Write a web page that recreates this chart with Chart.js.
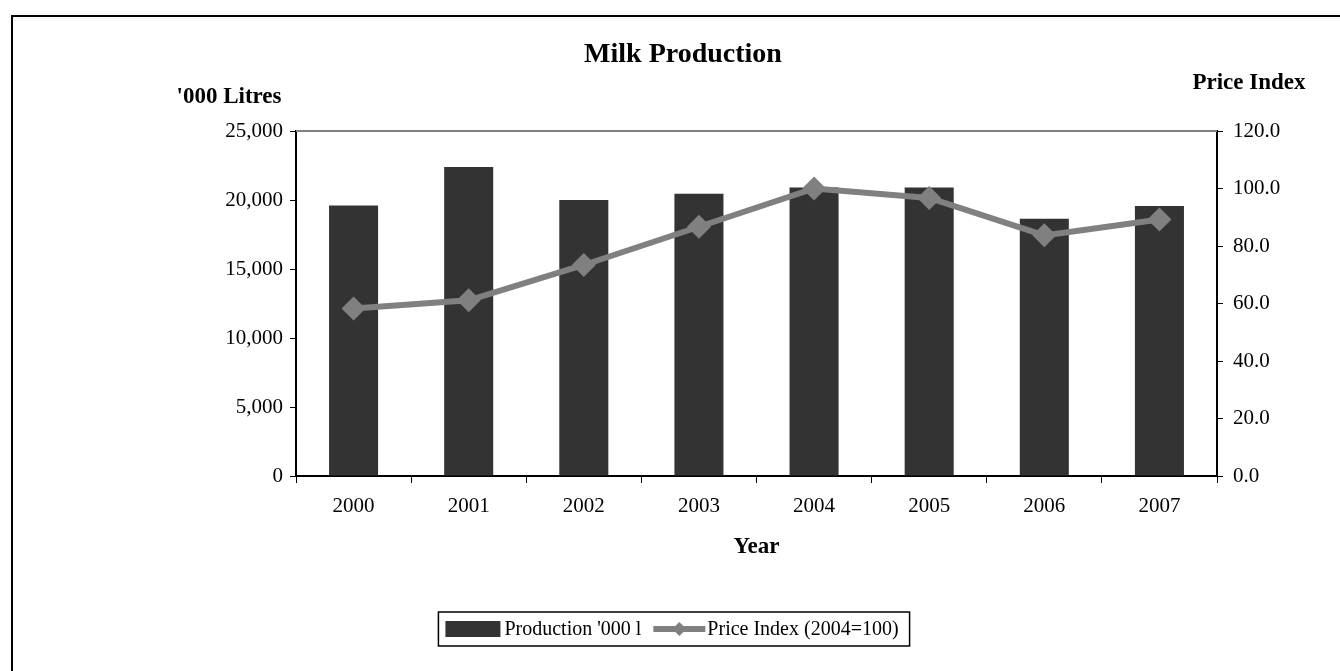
<!DOCTYPE html>
<html>
<head>
<meta charset="utf-8">
<script src="https://cdn.jsdelivr.net/npm/chart.js@4.4.1/dist/chart.umd.min.js"></script>
<style>
  body { margin: 0; background: #fff; }
  #wrap { width: 1340px; height: 671px; position: relative; }
</style>
</head>
<body>
<div id="wrap"><canvas id="milk-chart" width="1340" height="671"></canvas></div>
<script>
const years = ["2000", "2001", "2002", "2003", "2004", "2005", "2006", "2007"];
const production = [19600, 22400, 20000, 20450, 20900, 20900, 18650, 19570];
const priceIndex = [58.3, 61.1, 73.4, 86.7, 100.0, 96.7, 83.7, 89.2];
const leftTicks = [0, 5000, 10000, 15000, 20000, 25000];
const rightTicks = [0, 20, 40, 60, 80, 100, 120];

const serif = "'Liberation Serif', 'Times New Roman', serif";
const barColor = "#333333";
const lineColor = "#808080";

// titles, border, top rule and framed legend
const decor = {
  id: "decor",
  beforeDraw(c) {
    const ctx = c.ctx;
    ctx.save();
    ctx.fillStyle = "#fff";
    ctx.fillRect(0, 0, c.width, c.height);
    ctx.restore();
  },
  afterDraw(c) {
    const ctx = c.ctx;
    const a = c.chartArea;
    ctx.save();
    // outer frame (only left / top visible)
    ctx.strokeStyle = "#000";
    ctx.lineWidth = 2;
    ctx.beginPath();
    ctx.moveTo(12, c.height);
    ctx.lineTo(12, 16);
    ctx.lineTo(c.width, 16);
    ctx.stroke();
    // grey top rule of plot area
    ctx.strokeStyle = lineColor;
    ctx.lineWidth = 2;
    ctx.beginPath();
    ctx.moveTo(a.left, a.top);
    ctx.lineTo(a.right, a.top);
    ctx.stroke();

    ctx.fillStyle = "#000";
    ctx.textAlign = "center";
    ctx.textBaseline = "middle";
    ctx.font = "bold 28px " + serif;
    ctx.fillText("Milk Production", 683, 55);
    ctx.font = "bold 23px " + serif;
    ctx.fillText("'000 Litres", 229, 97);
    ctx.fillText("Price Index", 1249, 83);
    ctx.fillText("Year", (a.left + a.right) / 2, 547);

    // legend
    const ds = c.data.datasets;
    const barLabel = ds[0].label, lineLabel = ds[1].label;
    ctx.font = "20px " + serif;
    const w1 = ctx.measureText(barLabel).width;
    const w2 = ctx.measureText(lineLabel).width;
    const total = 7 + 55 + 4 + w1 + 12 + 52 + 2 + w2 + 11;
    const bx = 674 - total / 2, by = 612, bh = 34;
    ctx.strokeStyle = "#000";
    ctx.lineWidth = 1.5;
    ctx.strokeRect(bx, by, total, bh);
    let x = bx + 7;
    const cy = by + bh / 2;
    ctx.fillStyle = barColor;
    ctx.fillRect(x, cy - 8, 55, 16);
    x += 59;
    ctx.fillStyle = "#000";
    ctx.textAlign = "left";
    ctx.fillText(barLabel, x, cy + 1);
    x += w1 + 12;
    ctx.strokeStyle = lineColor;
    ctx.lineWidth = 6;
    ctx.beginPath();
    ctx.moveTo(x, cy);
    ctx.lineTo(x + 52, cy);
    ctx.stroke();
    ctx.fillStyle = lineColor;
    ctx.beginPath();
    ctx.moveTo(x + 26, cy - 7);
    ctx.lineTo(x + 33, cy);
    ctx.lineTo(x + 26, cy + 7);
    ctx.lineTo(x + 19, cy);
    ctx.closePath();
    ctx.fill();
    x += 54;
    ctx.fillStyle = "#000";
    ctx.fillText(lineLabel, x, cy + 1);
    ctx.restore();
  }
};

const tickFont = { family: serif, size: 21 };

const chart = new Chart(document.getElementById("milk-chart"), {
  type: "bar",
  data: {
    labels: years,
    datasets: [{
      label: "Production '000 l",
      data: production,
      yAxisID: "y",
      order: 1,
      backgroundColor: barColor,
      borderWidth: 0,
      categoryPercentage: 1,
      barPercentage: 0.426
    }, {
      type: "line",
      label: "Price Index (2004=100)",
      data: priceIndex,
      yAxisID: "y1",
      order: 0,
      borderColor: lineColor,
      backgroundColor: lineColor,
      borderWidth: 6,
      tension: 0,
      pointStyle: "rectRot",
      pointRadius: 12,
      pointBackgroundColor: lineColor,
      pointBorderColor: lineColor,
      pointBorderWidth: 0
    }]
  },
  options: {
    responsive: false,
    animation: false,
    layout: { padding: { top: 131, left: 0, right: 0, bottom: 0 } },
    plugins: {
      legend: { display: false },
      title: { display: false },
      tooltip: { enabled: false }
    },
    scales: {
      x: {
        offset: true,
        grid: { offset: true, drawOnChartArea: false, tickLength: 7, color: "#000" },
        border: { color: "#000", width: 2 },
        ticks: { font: tickFont, color: "#000", padding: 11 },
        afterFit(s) { s.height = 195; }
      },
      y: {
        position: "left",
        min: leftTicks[0],
        max: leftTicks[leftTicks.length - 1],
        afterBuildTicks(s) { s.ticks = leftTicks.map(v => ({ value: v })); },
        grid: { drawOnChartArea: false, tickLength: 6, color: "#000" },
        border: { color: "#000", width: 2 },
        ticks: {
          font: tickFont, color: "#000", padding: 7,
          callback: v => v.toLocaleString("en-US")
        },
        afterFit(s) { s.width = 296; }
      },
      y1: {
        position: "right",
        min: rightTicks[0],
        max: rightTicks[rightTicks.length - 1],
        afterBuildTicks(s) { s.ticks = rightTicks.map(v => ({ value: v })); },
        grid: { drawOnChartArea: false, tickLength: 6, color: "#000" },
        border: { color: "#000", width: 2 },
        ticks: {
          font: tickFont, color: "#000", padding: 10,
          callback: v => Number(v).toFixed(1)
        },
        afterFit(s) { s.width = 123; }
      }
    }
  },
  plugins: [decor]
});
</script>
</body>
</html>
